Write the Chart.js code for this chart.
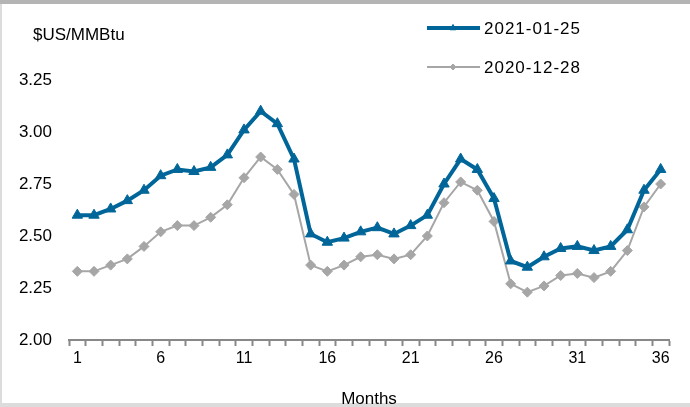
<!DOCTYPE html>
<html>
<head>
<meta charset="utf-8">
<script src="https://cdn.jsdelivr.net/npm/chart.js@4/dist/chart.umd.min.js"></script>
<style>
  html, body { margin: 0; padding: 0; background: #fff; }
  #wrap { width: 690px; height: 407px; position: relative; }
</style>
</head>
<body>
<div id="wrap"><canvas id="gasChart" width="690" height="407"></canvas></div>
<script>
// DATA
const months = [];
for (let m = 1; m <= 36; m++) months.push(String(m));

const jan25 = [
  2.60, 2.60, 2.63, 2.67, 2.72, 2.79, 2.82, 2.81, 2.83, 2.89,
  3.01, 3.10, 3.04, 2.87, 2.51, 2.47, 2.49, 2.52, 2.54, 2.51,
  2.55, 2.60, 2.75, 2.87, 2.82, 2.68, 2.38, 2.35, 2.40, 2.44,
  2.45, 2.43, 2.45, 2.53, 2.72, 2.82
];

const dec28 = [
  2.33, 2.33, 2.36, 2.39, 2.45, 2.52, 2.55, 2.55, 2.59, 2.65,
  2.78, 2.88, 2.82, 2.70, 2.36, 2.33, 2.36, 2.40, 2.41, 2.39,
  2.41, 2.50, 2.66, 2.76, 2.72, 2.57, 2.27, 2.23, 2.26, 2.31,
  2.32, 2.30, 2.33, 2.43, 2.64, 2.75
];

const yTicks = [2.00, 2.25, 2.50, 2.75, 3.00, 3.25];

const BLUE = "#006699";
const GREY = "#a6a6a6";
const FONT = "'Liberation Sans', Arial, sans-serif";

// frame + unit label + legend
const decorations = {
  id: "decorations",
  beforeDraw(chart) {
    const c = chart.ctx;
    c.save();
    c.fillStyle = "#dcdcdc";
    c.fillRect(0, 0, 2, chart.height);
    c.fillRect(0, chart.height - 4, chart.width, 4);
    c.fillStyle = "#b4b4b4";
    c.fillRect(0, 0, chart.width, 4);
    c.restore();
  },
  afterDraw(chart) {
    const c = chart.ctx;
    c.save();
    c.textBaseline = "middle";
    c.textAlign = "left";
    c.fillStyle = "#000";
    c.font = "17px " + FONT;
    c.fillText("$US/MMBtu", 33, 35);

    const rows = [
      { ds: chart.data.datasets[0], y: 28, style: "triangle", r: 3.5 },
      { ds: chart.data.datasets[1], y: 67, style: "rectRot", r: 3 }
    ];
    rows.forEach(r => {
      c.strokeStyle = r.ds.borderColor;
      c.lineWidth = r.ds.borderWidth;
      c.beginPath();
      c.moveTo(427, r.y);
      c.lineTo(480, r.y);
      c.stroke();
      c.fillStyle = r.ds.borderColor;
      c.lineWidth = 1;
      Chart.helpers.drawPoint(c, {
        pointStyle: r.style, radius: r.r, borderWidth: 1, rotation: 0
      }, 453, r.y);
      c.fillStyle = "#000";
      c.font = "17px " + FONT;
      c.letterSpacing = "1px";
      c.fillText(r.ds.label, 484, r.y + 1);
      c.letterSpacing = "0px";
    });
    c.restore();
  }
};

new Chart(document.getElementById("gasChart"), {
  type: "line",
  data: {
    labels: months,
    datasets: [
      {
        label: "2021-01-25",
        data: jan25,
        borderColor: BLUE,
        backgroundColor: BLUE,
        borderWidth: 4,
        pointStyle: "triangle",
        pointRadius: 6,
        pointBorderWidth: 1,
        tension: 0
      },
      {
        label: "2020-12-28",
        data: dec28,
        borderColor: GREY,
        backgroundColor: GREY,
        borderWidth: 2,
        pointStyle: "rectRot",
        pointRadius: 5,
        pointBorderWidth: 1,
        tension: 0
      }
    ]
  },
  options: {
    responsive: false,
    animation: false,
    devicePixelRatio: 1,
    layout: { padding: { top: 80, right: 21, bottom: 0, left: 0 } },
    plugins: {
      legend: { display: false },
      tooltip: { enabled: false }
    },
    scales: {
      x: {
        offset: true,
        afterFit: (scale) => { scale.height = 67; },
        grid: {
          offset: true,
          drawOnChartArea: false,
          drawTicks: true,
          tickLength: 6,
          tickWidth: 2,
          color: "#888"
        },
        border: { display: true, color: "#888", width: 2 },
        ticks: {
          autoSkip: false,
          maxRotation: 0,
          padding: 3,
          color: "#000",
          font: { family: FONT, size: 16 },
          callback: (v, i) => (i % 5 === 0 ? months[i] : "")
        },
        title: {
          display: true,
          text: "Months",
          color: "#000",
          font: { family: FONT, size: 17 },
          padding: { top: 20, bottom: -3 }
        }
      },
      y: {
        min: yTicks[0],
        max: yTicks[yTicks.length - 1],
        grid: { display: false, drawTicks: false },
        border: { display: false },
        afterBuildTicks: (scale) => {
          scale.ticks = yTicks.map(v => ({ value: v }));
        },
        afterFit: (scale) => { scale.width = 69; },
        ticks: {
          padding: 17,
          color: "#000",
          font: { family: FONT, size: 17 },
          callback: (v) => Number(v).toFixed(2)
        }
      }
    }
  },
  plugins: [decorations]
});
</script>
</body>
</html>
